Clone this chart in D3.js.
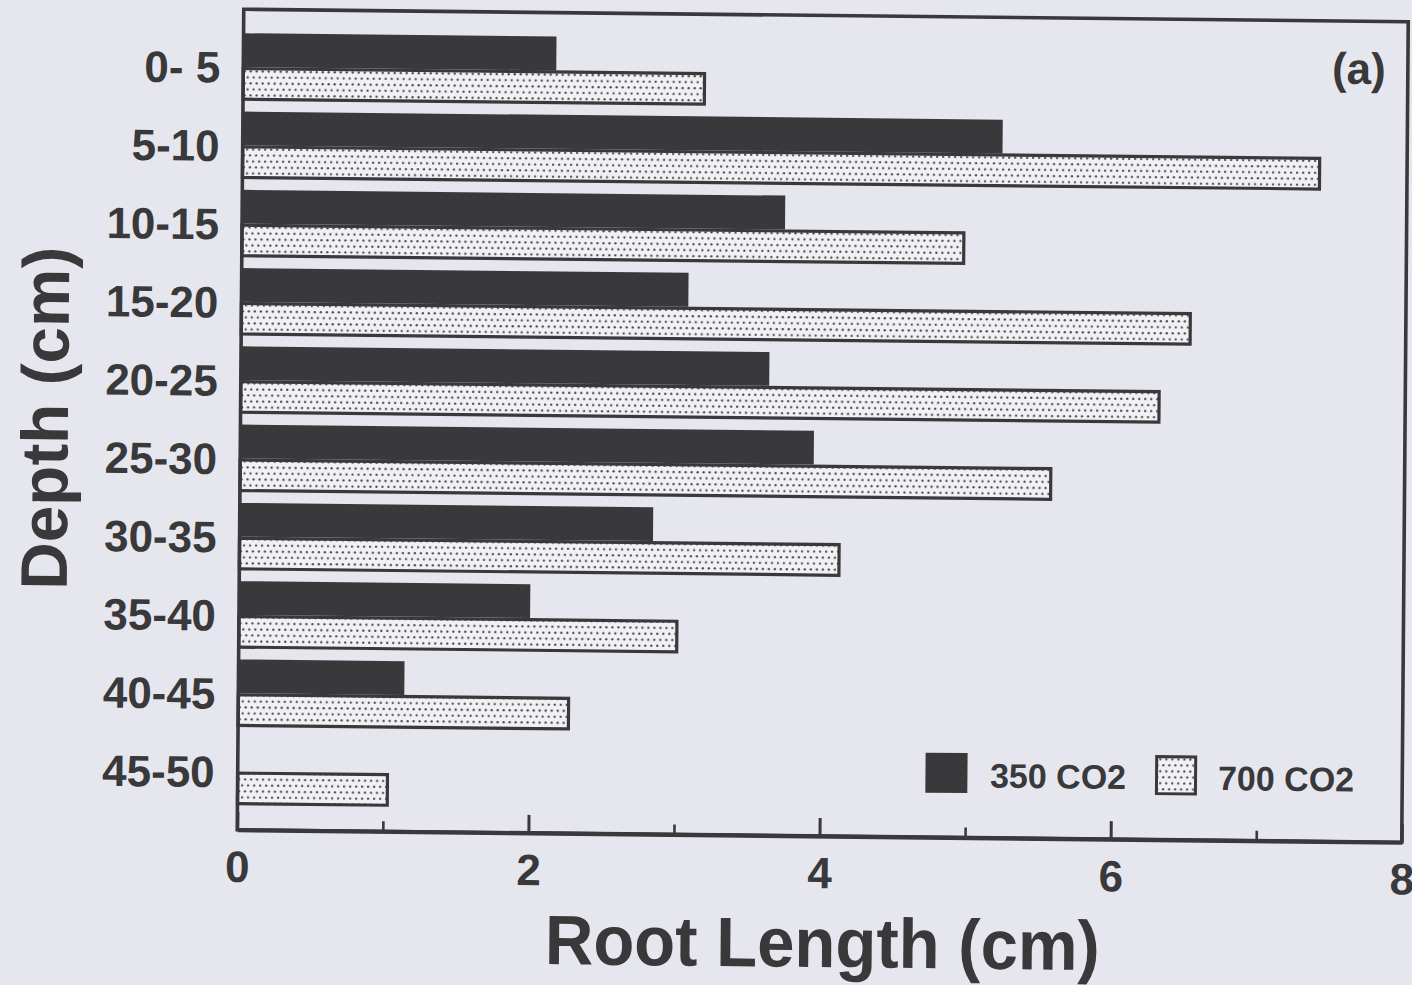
<!DOCTYPE html>
<html><head><meta charset="utf-8">
<script src="https://cdn.jsdelivr.net/npm/d3@7"></script>
<style>
html,body{margin:0;padding:0;background:#e6e7ee;overflow:hidden}
svg{display:block}
text{font-family:"Liberation Sans",Arial,Helvetica,sans-serif;font-weight:bold;fill:#39383a}
</style></head><body>
<svg id="chart" width="1412" height="985"></svg>
<script>
// ---- data ----
const categories = ["0- 5","5-10","10-15","15-20","20-25","25-30","30-35","35-40","40-45","45-50"];
const seriesNames = ["350 CO2","700 CO2"];
const co2_350 = [2.15,5.22,3.73,3.07,3.63,3.94,2.84,2.00,1.14,0];
const co2_700 = [3.18,7.41,4.97,6.53,6.32,5.58,4.13,3.02,2.28,1.04];
const xTicks = [0,2,4,6,8];
const xMinorTicks = [1,3,5,7];
const xTitle = "Root Length (cm)";
const yTitle = "Depth (cm)";
const panelLabel = "(a)";

// ---- layout ----
const W = 1164.5, H = 820.5;
const ink = "#39383a";
const svg = d3.select("#chart");
svg.append("rect").attr("width",1412).attr("height",985).attr("fill","#e6e7ee");

const defs = svg.append("defs");
const pat = defs.append("pattern").attr("id","dots").attr("patternUnits","userSpaceOnUse")
  .attr("width",6).attr("height",12);
pat.append("rect").attr("width",6).attr("height",12).attr("fill","#f0f1f5");
pat.append("circle").attr("cx",1.5).attr("cy",2).attr("r",1.15).attr("fill","#4a494c");
pat.append("circle").attr("cx",4.5).attr("cy",8).attr("r",1.15).attr("fill","#4a494c");

// slight skew of the scanned page
const g = svg.append("g").attr("transform","matrix(1,0.010734,-0.007922,1,243.75,9.25)");

const x = d3.scaleLinear().domain([0,8]).range([0,W]);
const y = d3.scaleBand().domain(categories).range([24,796]).paddingInner(0.137).paddingOuter(0);
const ys = d3.scaleBand().domain(seriesNames).range([0,y.bandwidth()]);

const rows = categories.map((c,i)=>({cat:c, v350:co2_350[i], v700:co2_700[i]}));

// dark bars
g.append("g").selectAll("rect").data(rows).join("rect")
  .attr("x",0).attr("y",d=>y(d.cat)+ys(seriesNames[0]))
  .attr("width",d=>x(d.v350)).attr("height",ys.bandwidth())
  .attr("fill",ink);

// dotted bars
const sw = 3.2;
g.append("g").selectAll("rect").data(rows).join("rect")
  .attr("x",0).attr("y",d=>y(d.cat)+ys(seriesNames[1])+sw/2)
  .attr("width",d=>Math.max(0,x(d.v700)-sw/2)).attr("height",ys.bandwidth()-sw)
  .attr("fill","url(#dots)").attr("stroke",ink).attr("stroke-width",sw);

// frame
g.append("rect").attr("x",0).attr("y",0).attr("width",W).attr("height",H)
  .attr("fill","none").attr("stroke",ink).attr("stroke-width",3.6);

// x axis: major ticks inward with labels
const xAxis = g.append("g").attr("transform",`translate(0,${H})`)
  .call(d3.axisBottom(x).tickValues(xTicks).tickSizeInner(-18).tickSizeOuter(0).tickPadding(21).tickFormat(d3.format("d")));
xAxis.select(".domain").attr("stroke",ink).attr("stroke-width",4.2);
xAxis.selectAll(".tick line").attr("stroke",ink).attr("stroke-width",3);
xAxis.selectAll(".tick text").attr("font-size",44).style("font-family",'"Liberation Sans",Arial,sans-serif').style("font-weight","bold").attr("fill",ink);

// minor ticks
const xMinor = g.append("g").attr("transform",`translate(0,${H})`)
  .call(d3.axisBottom(x).tickValues(xMinorTicks).tickSizeInner(-10).tickSizeOuter(0).tickFormat(""));
xMinor.select(".domain").remove();
xMinor.selectAll(".tick line").attr("stroke",ink).attr("stroke-width",2.6);

// y axis labels
const yAxis = g.append("g")
  .call(d3.axisLeft(y).tickSize(0).tickPadding(23));
yAxis.select(".domain").remove();
yAxis.selectAll(".tick text").attr("font-size",44).style("font-family",'"Liberation Sans",Arial,sans-serif').style("font-weight","bold").attr("fill",ink)
  .attr("dy","0.36em");

// axis titles
g.append("text").attr("x",586).attr("y",951.5).attr("text-anchor","middle")
  .attr("font-size",70).attr("textLength",555).attr("lengthAdjust","spacingAndGlyphs").text(xTitle);
g.append("text").attr("transform","translate(-172.5,411) rotate(-90)").attr("text-anchor","middle")
  .attr("font-size",66).attr("textLength",343).attr("lengthAdjust","spacingAndGlyphs").text(yTitle);

// panel label
g.append("text").attr("x",1115.6).attr("y",46.8).attr("dy","0.36em").attr("text-anchor","middle")
  .attr("font-size",44).text(panelLabel);

// legend
const legend = g.append("g");
const legItems = [
  {name:seriesNames[0], fill:ink, stroke:"none", sx:687.7, tx:752.3},
  {name:seriesNames[1], fill:"url(#dots)", stroke:ink, sx:917.3, tx:980.3}
];
legItems.forEach(d=>{
  legend.append("rect").attr("x",d.sx+(d.stroke==="none"?0:1.5)).attr("y",736+(d.stroke==="none"?0:1.5))
    .attr("width",d.stroke==="none"?42:39).attr("height",d.stroke==="none"?40:37)
    .attr("fill",d.fill).attr("stroke",d.stroke).attr("stroke-width",3);
  legend.append("text").attr("x",d.tx).attr("y",758).attr("dy","0.36em")
    .attr("font-size",34).text(d.name);
});
</script>
</body></html>
